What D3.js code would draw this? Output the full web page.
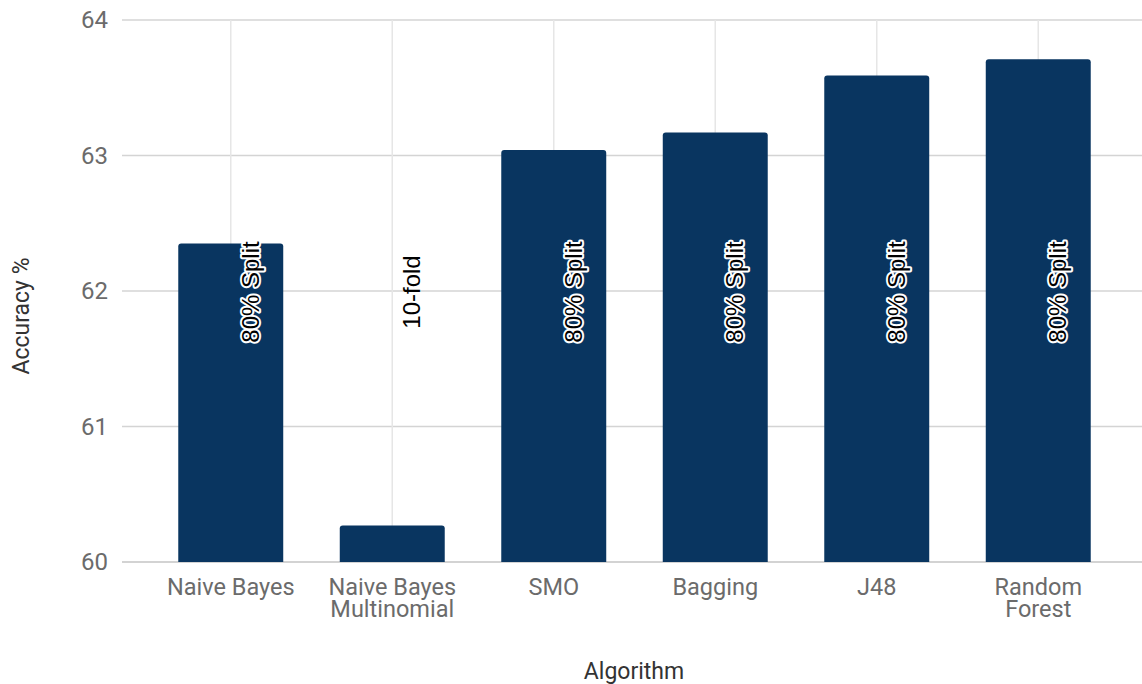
<!DOCTYPE html>
<html>
<head>
<meta charset="utf-8">
<script src="https://cdn.jsdelivr.net/npm/d3@7"></script>
<style>
  html, body { margin: 0; padding: 0; background: #fff; }
  svg { display: block; font-family: Roboto, "Noto Sans", sans-serif; }
</style>
</head>
<body>
<svg id="chart" width="1142" height="684"></svg>
<script>
// Classifier accuracy by algorithm
const algorithms = ["Naive Bayes", "Naive Bayes\nMultinomial", "SMO", "Bagging", "J48", "Random\nForest"];
const accuracy = [62.35, 60.27, 63.04, 63.17, 63.59, 63.71];
const evaluation = ["80% Split", "10-fold", "80% Split", "80% Split", "80% Split", "80% Split"];
const yTicks = [60, 61, 62, 63, 64];

const svg = d3.select("#chart");
const gridLeft = 122, gridRight = 1142;
const plotTop = 20, plotBottom = 562;

const x = d3.scaleBand()
  .domain(algorithms)
  .range([150, 1119])
  .paddingInner(0.35)
  .paddingOuter(0.175);

const y = d3.scaleLinear().domain([60, 64]).range([plotBottom, plotTop]);

// horizontal gridlines
svg.append("g")
  .selectAll("line")
  .data(yTicks)
  .join("line")
  .attr("x1", gridLeft).attr("x2", gridRight)
  .attr("y1", d => y(d)).attr("y2", d => y(d))
  .attr("stroke", d => d === 60 ? "#c4c4c4" : "#d4d4d4")
  .attr("stroke-width", 1.5);

// vertical gridlines at category centres
svg.append("g")
  .selectAll("line")
  .data(algorithms)
  .join("line")
  .attr("x1", d => x(d) + x.bandwidth() / 2)
  .attr("x2", d => x(d) + x.bandwidth() / 2)
  .attr("y1", plotTop).attr("y2", plotBottom)
  .attr("stroke", "#e6e6e6")
  .attr("stroke-width", 1.5);

// y tick labels
svg.append("g")
  .selectAll("text")
  .data(yTicks)
  .join("text")
  .attr("x", 108)
  .attr("y", d => y(d))
  .attr("dy", "0.35em")
  .attr("text-anchor", "end")
  .attr("font-size", 24)
  .attr("fill", "#6b6b6b")
  .text(d => d);

// bars with rounded top corners
const r = 3;
function barPath(x0, w, yTop, yBase) {
  return `M${x0},${yBase}V${yTop + r}Q${x0},${yTop} ${x0 + r},${yTop}` +
         `H${x0 + w - r}Q${x0 + w},${yTop} ${x0 + w},${yTop + r}V${yBase}Z`;
}
svg.append("g")
  .selectAll("path")
  .data(algorithms)
  .join("path")
  .attr("d", (d, i) => barPath(x(d), x.bandwidth(), y(accuracy[i]), y(60)))
  .attr("fill", "#093560");

// evaluation method labels, rotated
svg.append("g")
  .selectAll("text")
  .data(algorithms)
  .join("text")
  .attr("transform", d => `translate(${x(d) + x.bandwidth() / 2 + 28},292) rotate(-90)`)
  .attr("text-anchor", "middle")
  .attr("font-family", "'Liberation Sans', Arial, sans-serif")
  .attr("font-size", 24)
  .attr("fill", "#000")
  .attr("stroke", (d, i) => evaluation[i] === "10-fold" ? "none" : "#fff")
  .attr("stroke-width", 4)
  .attr("stroke-linejoin", "round")
  .attr("paint-order", "stroke")
  .text((d, i) => evaluation[i]);

// category labels (one text element per line)
svg.append("g")
  .selectAll("g")
  .data(algorithms)
  .join("g")
  .attr("transform", d => `translate(${x(d) + x.bandwidth() / 2},0)`)
  .selectAll("text")
  .data(d => d.split("\n"))
  .join("text")
  .attr("y", (d, i) => 595 + i * 22)
  .attr("text-anchor", "middle")
  .attr("font-size", 23.5)
  .attr("fill", "#6b6b6b")
  .text(d => d);

// axis titles
svg.append("text")
  .attr("x", 634).attr("y", 679)
  .attr("text-anchor", "middle")
  .attr("font-size", 23)
  .attr("fill", "#333")
  .text("Algorithm");

svg.append("text")
  .attr("transform", "translate(29,316) rotate(-90)")
  .attr("text-anchor", "middle")
  .attr("font-size", 23)
  .attr("fill", "#333")
  .text("Accuracy %");
</script>
</body>
</html>
